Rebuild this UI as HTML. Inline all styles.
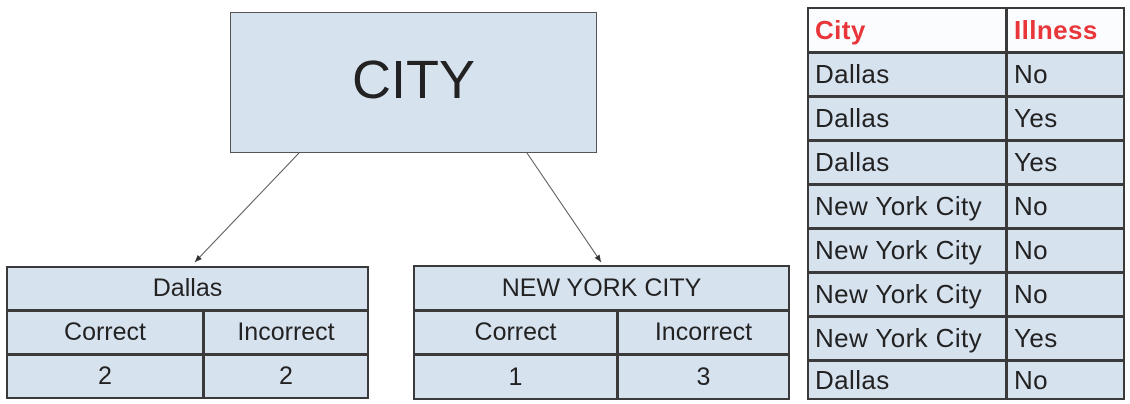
<!DOCTYPE html>
<html><head><meta charset="utf-8"><style>
body{margin:0;width:1130px;height:404px;background:#fff;position:relative;overflow:hidden;font-family:"Liberation Sans",sans-serif;color:#222}
.c{position:absolute;box-sizing:border-box;background:#d7e2ef;border:2px solid #3a3a3a;display:flex;align-items:center;justify-content:center;font-size:25px}
.l{justify-content:flex-start;padding-left:6px;letter-spacing:0.4px;font-size:26px}
.h{background:#fbfcfd;color:#e8363b;font-weight:bold}
</style></head><body>
<div class="c" style="left:230px;top:12px;width:367px;height:141px;font-size:54px;border:1px solid #555;padding-bottom:6px">CITY</div>
<svg style="position:absolute;left:0;top:0" width="1130" height="404">
<defs><marker id="a" markerWidth="8" markerHeight="8" refX="7" refY="4" orient="auto"><path d="M0,1 L7,4 L0,7z" fill="#333"/></marker></defs>
<line x1="299" y1="153" x2="195" y2="262" stroke="#555" stroke-width="1" marker-end="url(#a)"/>
<line x1="527" y1="153" x2="601" y2="262" stroke="#555" stroke-width="1" marker-end="url(#a)"/>
</svg>
<div class="c" style="left:6px;top:266px;width:363px;height:45px">Dallas</div>
<div class="c" style="left:6px;top:310px;width:198px;height:45px">Correct</div>
<div class="c" style="left:203px;top:310px;width:166px;height:45px">Incorrect</div>
<div class="c" style="left:6px;top:354px;width:198px;height:45px">2</div>
<div class="c" style="left:203px;top:354px;width:166px;height:45px">2</div>
<div class="c" style="left:413px;top:265px;width:377px;height:46px">NEW YORK CITY</div>
<div class="c" style="left:413px;top:310px;width:205px;height:45px">Correct</div>
<div class="c" style="left:617px;top:310px;width:173px;height:45px">Incorrect</div>
<div class="c" style="left:413px;top:354px;width:205px;height:46px">1</div>
<div class="c" style="left:617px;top:354px;width:173px;height:46px">3</div>
<div class="c l h" style="left:807px;top:7px;width:200px;height:46px">City</div>
<div class="c l h" style="left:1006px;top:7px;width:119px;height:46px">Illness</div>
<div class="c l" style="left:807px;top:52px;width:200px;height:45px">Dallas</div><div class="c l" style="left:1006px;top:52px;width:119px;height:45px">No</div>
<div class="c l" style="left:807px;top:96px;width:200px;height:45px">Dallas</div><div class="c l" style="left:1006px;top:96px;width:119px;height:45px">Yes</div>
<div class="c l" style="left:807px;top:140px;width:200px;height:45px">Dallas</div><div class="c l" style="left:1006px;top:140px;width:119px;height:45px">Yes</div>
<div class="c l" style="left:807px;top:184px;width:200px;height:45px">New York City</div><div class="c l" style="left:1006px;top:184px;width:119px;height:45px">No</div>
<div class="c l" style="left:807px;top:228px;width:200px;height:45px">New York City</div><div class="c l" style="left:1006px;top:228px;width:119px;height:45px">No</div>
<div class="c l" style="left:807px;top:272px;width:200px;height:45px">New York City</div><div class="c l" style="left:1006px;top:272px;width:119px;height:45px">No</div>
<div class="c l" style="left:807px;top:316px;width:200px;height:45px">New York City</div><div class="c l" style="left:1006px;top:316px;width:119px;height:45px">Yes</div>
<div class="c l" style="left:807px;top:360px;width:200px;height:40px">Dallas</div><div class="c l" style="left:1006px;top:360px;width:119px;height:40px">No</div>
</body></html>
